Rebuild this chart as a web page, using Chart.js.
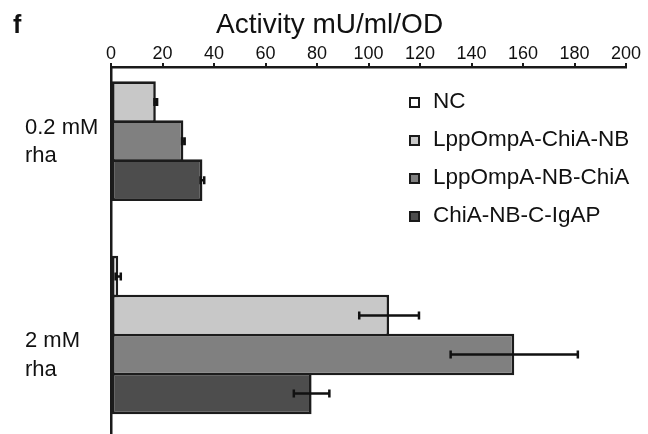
<!DOCTYPE html>
<html>
<head>
<meta charset="utf-8">
<script src="https://cdn.jsdelivr.net/npm/chart.js@4"></script>
<style>
  body { margin: 0; background: #fff; font-family: "Liberation Sans", Arial, sans-serif; color: #111; }
  #wrap { position: relative; width: 648px; height: 434px; overflow: hidden; }
  canvas { display: block; }
  #panel { position: absolute; left: 13px; top: 12px; font-size: 25px; font-weight: bold; line-height: 1; }
  #title { position: absolute; left: 216px; top: 10px; font-size: 28px; line-height: 1; }
  #legend { position: absolute; left: 409px; top: 0; }
  .item { position: absolute; left: 0; white-space: nowrap; font-size: 22.5px; line-height: 1; }
  .box { position: absolute; left: 0; width: 7px; height: 7px; border: 2px solid #1a1a1a; }
  .item span { position: absolute; left: 24px; }
</style>
</head>
<body>
<div id="wrap">
  <canvas id="chart" width="648" height="434"></canvas>
  <div id="panel">f</div>
  <div id="title">Activity mU/ml/OD</div>
  <div id="legend"></div>
</div>
<script>
const categories = [['0.2 mM', 'rha'], ['2 mM', 'rha']];
const seriesNames = ['NC', 'LppOmpA-ChiA-NB', 'LppOmpA-NB-ChiA', 'ChiA-NB-C-IgAP'];
const seriesColors = ['#ffffff', '#c8c8c8', '#808080', '#4d4d4d'];

const ncValues = [0, 2.8];
const ncErrors = [0, 1.0];
const chiaNbValues = [17.4, 108];
const chiaNbErrors = [0.5, 11.6];
const nbChiaValues = [28.1, 156.6];
const nbChiaErrors = [0.5, 24.7];
const igapValues = [35.5, 77.9];
const igapErrors = [0.7, 6.9];

const seriesValues = [ncValues, chiaNbValues, nbChiaValues, igapValues];
const seriesErrors = [ncErrors, chiaNbErrors, nbChiaErrors, igapErrors];

const xMin = 0, xMax = 200, xStep = 20;

Chart.defaults.font.family = '"Liberation Sans", Arial, sans-serif';
Chart.defaults.color = '#111';

// html legend
const legend = document.getElementById('legend');
seriesNames.forEach((name, i) => {
    const row = document.createElement('div');
    row.className = 'item';
    row.style.top = (90 + i * 38.1) + 'px';
    row.innerHTML = '<div class="box" style="top:7px;background:' + seriesColors[i] + '"></div><span>' + name + '</span>';
    legend.appendChild(row);
});

// error bars drawn over the bars
const errorBars = {
    id: 'errorBars',
    afterDatasetsDraw(chart) {
        const ctx = chart.ctx;
        const xs = chart.scales.x;
        ctx.save();
        ctx.strokeStyle = '#111';
        ctx.lineWidth = 2.5;
        chart.data.datasets.forEach((ds, i) => {
            chart.getDatasetMeta(i).data.forEach((bar, j) => {
                const e = ds.errors[j];
                if (!e) return;
                const v = ds.data[j].x;
                const lo = xs.getPixelForValue(v - e);
                const hi = xs.getPixelForValue(v + e);
                ctx.beginPath();
                ctx.moveTo(lo, bar.y); ctx.lineTo(hi, bar.y);
                ctx.moveTo(lo, bar.y - 4); ctx.lineTo(lo, bar.y + 4);
                ctx.moveTo(hi, bar.y - 4); ctx.lineTo(hi, bar.y + 4);
                ctx.stroke();
            });
        });
        ctx.restore();
    }
};

new Chart(document.getElementById('chart'), {
    type: 'bar',
    data: {
        datasets: seriesNames.map((name, i) => ({
            label: name,
            data: seriesValues[i].map((v, j) => ({ x: v, y: j })),
            errors: seriesErrors[i],
            backgroundColor: seriesColors[i],
            borderColor: '#1c1c1c',
            borderWidth: 2.6,
            borderSkipped: false,
            categoryPercentage: 0.7314,
            barPercentage: 1.0667
        }))
    },
    options: {
        indexAxis: 'y',
        responsive: false,
        animation: false,
        layout: { padding: { left: 25, right: 22, top: 0, bottom: 0 } },
        scales: {
            x: {
                type: 'linear',
                position: 'top',
                min: xMin,
                max: xMax,
                ticks: { stepSize: xStep, padding: -2, font: { size: 18 } },
                grid: { drawOnChartArea: false, tickLength: 4, color: '#1a1a1a', lineWidth: 2 },
                border: { color: '#1a1a1a', width: 2.5 },
                afterFit: s => { s.height = 67; }
            },
            y: {
                type: 'linear',
                reverse: true,
                offset: false,
                min: -0.256,
                max: 1.464,
                bounds: 'data',
                afterBuildTicks: s => { s.ticks = categories.map((c, i) => ({ value: i })); },
                ticks: {
                    callback: v => categories[v],
                    crossAlign: 'far',
                    labelOffset: 20.5,
                    font: { size: 22, lineHeight: 1.28 }
                },
                grid: { display: false, drawTicks: false },
                border: { display: true, color: '#1a1a1a', width: 2.5 },
                afterFit: s => { s.width = 86; s.paddingTop = 0; s.paddingBottom = 0; }
            }
        },
        plugins: {
            legend: { display: false },
            tooltip: { enabled: false }
        }
    },
    plugins: [errorBars]
});
</script>
</body>
</html>
